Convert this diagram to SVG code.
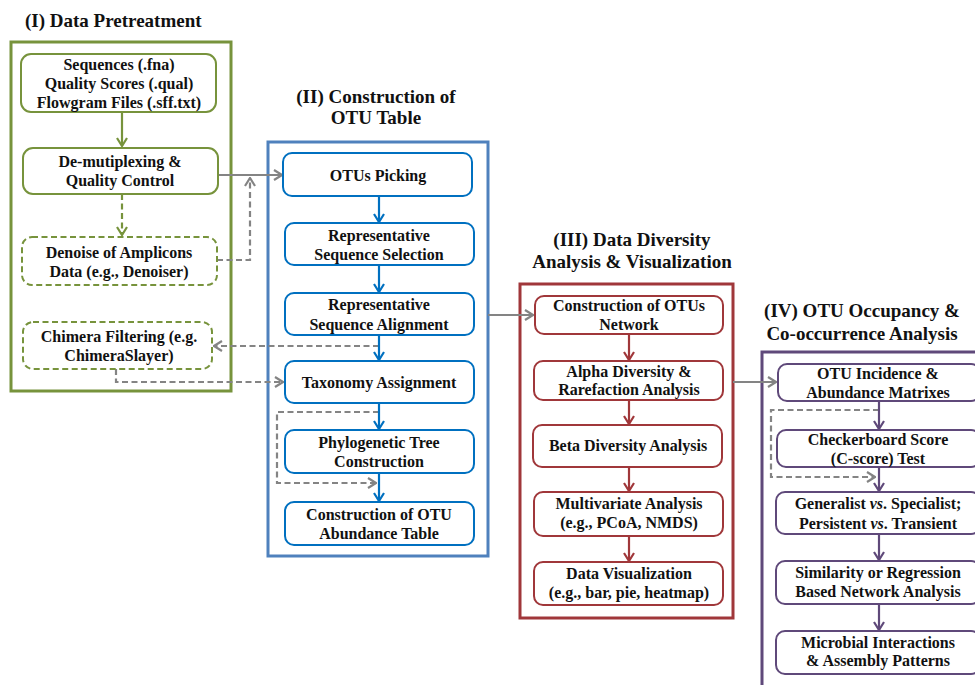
<svg xmlns="http://www.w3.org/2000/svg" width="975" height="685" viewBox="0 0 975 685">
<style>
text{font-family:"Liberation Serif","Times New Roman",serif;font-weight:bold;fill:#111;text-anchor:middle}
.t{font-size:19px}
.n{font-size:16px}
.ob{fill:none;stroke-width:3}
.nd{fill:#fff;stroke-width:2}
.g{stroke:#77933C}
.b{stroke:#0070C0}
.bo{stroke:#4F81BD}
.r{stroke:#A0373A}
.p{stroke:#5F497A}
.dash{stroke-dasharray:6 3.5}
.c{fill:none;stroke-width:2.2}
.gr{stroke:#848484}
</style>
<defs>
<marker id="mgr" viewBox="0 0 10 12" refX="9" refY="6" markerWidth="10" markerHeight="12" markerUnits="userSpaceOnUse" orient="auto"><path d="M1,1 L9,6 L1,11" fill="none" stroke="#848484" stroke-width="2.2"/></marker>
<marker id="mg" viewBox="0 0 10 12" refX="9" refY="6" markerWidth="10" markerHeight="12" markerUnits="userSpaceOnUse" orient="auto"><path d="M1,1 L9,6 L1,11" fill="none" stroke="#77933C" stroke-width="2.2"/></marker>
<marker id="mb" viewBox="0 0 10 12" refX="9" refY="6" markerWidth="10" markerHeight="12" markerUnits="userSpaceOnUse" orient="auto"><path d="M1,1 L9,6 L1,11" fill="none" stroke="#0070C0" stroke-width="2.2"/></marker>
<marker id="mr" viewBox="0 0 10 12" refX="9" refY="6" markerWidth="10" markerHeight="12" markerUnits="userSpaceOnUse" orient="auto"><path d="M1,1 L9,6 L1,11" fill="none" stroke="#A0373A" stroke-width="2.2"/></marker>
<marker id="mp" viewBox="0 0 10 12" refX="9" refY="6" markerWidth="10" markerHeight="12" markerUnits="userSpaceOnUse" orient="auto"><path d="M1,1 L9,6 L1,11" fill="none" stroke="#5F497A" stroke-width="2.2"/></marker>
</defs>
<rect width="975" height="685" fill="#fff"/>

<!-- Section frames and titles -->
<g id="section-I">
<text class="t" x="25" y="27" style="text-anchor:start">(I) Data Pretreatment</text>
<rect class="ob g" x="11" y="42" width="220" height="349"/>
</g>
<g id="section-II">
<text class="t" x="376" y="103">(II) Construction of</text>
<text class="t" x="376" y="124">OTU Table</text>
<rect class="ob bo" x="268" y="142" width="220" height="414"/>
</g>
<g id="section-III">
<text class="t" x="632" y="246">(III) Data Diversity</text>
<text class="t" x="632" y="268">Analysis &amp; Visualization</text>
<rect class="ob r" x="520" y="284" width="213" height="334"/>
</g>
<g id="section-IV">
<text class="t" x="862" y="317">(IV) OTU Occupancy &amp;</text>
<text class="t" x="862" y="340">Co-occurrence Analysis</text>
<rect class="ob p" x="762" y="352" width="220" height="345"/>
</g>

<!-- Connectors -->
<g id="connectors">
<line class="c g" x1="122" y1="112" x2="122" y2="146" marker-end="url(#mg)"/>
<line class="c g dash" x1="122" y1="194" x2="122" y2="235" marker-end="url(#mg)"/>
<line class="c gr" x1="218" y1="175" x2="282" y2="175" marker-end="url(#mgr)"/>
<polyline class="c gr dash" points="217,260 250,260 250,178" marker-end="url(#mgr)"/>
<line class="c gr dash" x1="379" y1="346" x2="214" y2="346" marker-end="url(#mgr)"/>
<polyline class="c gr dash" points="116,369 116,382 283,382" marker-end="url(#mgr)"/>
<polyline class="c gr dash" points="379,412 277,412 277,483 376,483" marker-end="url(#mgr)"/>
<line class="c gr" x1="488" y1="315" x2="533" y2="315" marker-end="url(#mgr)"/>
<line class="c gr" x1="733" y1="382" x2="776" y2="382" marker-end="url(#mgr)"/>
<polyline class="c gr dash" points="879,410 771,410 771,477 875,477" marker-end="url(#mgr)"/>

<line class="c b" x1="379" y1="196" x2="379" y2="222" marker-end="url(#mb)"/>
<line class="c b" x1="379" y1="265" x2="379" y2="292" marker-end="url(#mb)"/>
<line class="c b" x1="379" y1="335" x2="379" y2="360" marker-end="url(#mb)"/>
<line class="c b" x1="379" y1="403" x2="379" y2="429" marker-end="url(#mb)"/>
<line class="c b" x1="379" y1="473" x2="379" y2="501" marker-end="url(#mb)"/>

<line class="c r" x1="629" y1="334" x2="629" y2="360" marker-end="url(#mr)"/>
<line class="c r" x1="629" y1="400" x2="629" y2="424" marker-end="url(#mr)"/>
<line class="c r" x1="629" y1="467" x2="629" y2="491" marker-end="url(#mr)"/>
<line class="c r" x1="629" y1="536" x2="629" y2="561" marker-end="url(#mr)"/>

<line class="c p" x1="879" y1="401" x2="879" y2="429" marker-end="url(#mp)"/>
<line class="c p" x1="879" y1="467" x2="879" y2="491" marker-end="url(#mp)"/>
<line class="c p" x1="879" y1="534" x2="879" y2="560" marker-end="url(#mp)"/>
<line class="c p" x1="879" y1="604" x2="879" y2="630" marker-end="url(#mp)"/>
</g>

<!-- Section I nodes -->
<g id="n-input">
<rect class="nd g" x="21" y="54" width="195" height="58" rx="10"/>
<text class="n" x="119" y="70">Sequences (.fna)</text>
<text class="n" x="119" y="89">Quality Scores (.qual)</text>
<text class="n" x="119" y="108">Flowgram Files (.sff.txt)</text>
</g>
<g id="n-demux">
<rect class="nd g" x="23" y="148" width="195" height="46" rx="10"/>
<text class="n" x="120" y="167">De-mutiplexing &amp;</text>
<text class="n" x="120" y="186">Quality Control</text>
</g>
<g id="n-denoise">
<rect class="nd g dash" x="22" y="237" width="195" height="48" rx="10"/>
<text class="n" x="119" y="258">Denoise of Amplicons</text>
<text class="n" x="119" y="277">Data (e.g., Denoiser)</text>
</g>
<g id="n-chimera">
<rect class="nd g dash" x="23" y="322" width="189" height="47" rx="10"/>
<text class="n" x="119" y="342">Chimera Filtering (e.g.</text>
<text class="n" x="119" y="361">ChimeraSlayer)</text>
</g>

<!-- Section II nodes -->
<g id="n-otupick">
<rect class="nd b" x="283" y="153" width="189" height="43" rx="9"/>
<text class="n" x="378" y="181">OTUs Picking</text>
</g>
<g id="n-repsel">
<rect class="nd b" x="285" y="223" width="189" height="42" rx="9"/>
<text class="n" x="379" y="241">Representative</text>
<text class="n" x="379" y="260">Sequence Selection</text>
</g>
<g id="n-repalign">
<rect class="nd b" x="285" y="293" width="189" height="42" rx="9"/>
<text class="n" x="379" y="310">Representative</text>
<text class="n" x="379" y="330">Sequence Alignment</text>
</g>
<g id="n-taxonomy">
<rect class="nd b" x="285" y="361" width="189" height="42" rx="9"/>
<text class="n" x="379" y="388">Taxonomy Assignment</text>
</g>
<g id="n-phylo">
<rect class="nd b" x="285" y="430" width="189" height="43" rx="9"/>
<text class="n" x="379" y="448">Phylogenetic Tree</text>
<text class="n" x="379" y="467">Construction</text>
</g>
<g id="n-otutable">
<rect class="nd b" x="285" y="502" width="189" height="43" rx="9"/>
<text class="n" x="379" y="520">Construction of OTU</text>
<text class="n" x="379" y="539">Abundance Table</text>
</g>

<!-- Section III nodes -->
<g id="n-network">
<rect class="nd r" x="535" y="296" width="188" height="38" rx="9"/>
<text class="n" x="629" y="311">Construction of OTUs</text>
<text class="n" x="629" y="330">Network</text>
</g>
<g id="n-alpha">
<rect class="nd r" x="534" y="361" width="189" height="39" rx="9"/>
<text class="n" x="629" y="377">Alpha Diversity &amp;</text>
<text class="n" x="629" y="395">Rarefaction Analysis</text>
</g>
<g id="n-beta">
<rect class="nd r" x="533" y="425" width="189" height="42" rx="9"/>
<text class="n" x="628" y="451">Beta Diversity Analysis</text>
</g>
<g id="n-multi">
<rect class="nd r" x="534" y="492" width="189" height="44" rx="9"/>
<text class="n" x="629" y="509">Multivariate Analysis</text>
<text class="n" x="629" y="528">(e.g., PCoA, NMDS)</text>
</g>
<g id="n-vis">
<rect class="nd r" x="534" y="562" width="189" height="43" rx="9"/>
<text class="n" x="629" y="579">Data Visualization</text>
<text class="n" x="629" y="598">(e.g., bar, pie, heatmap)</text>
</g>

<!-- Section IV nodes -->
<g id="n-matrix">
<rect class="nd p" x="778" y="364" width="202" height="37" rx="9"/>
<text class="n" x="878" y="379">OTU Incidence &amp;</text>
<text class="n" x="878" y="398">Abundance Matrixes</text>
</g>
<g id="n-cscore">
<rect class="nd p" x="777" y="430" width="203" height="37" rx="9"/>
<text class="n" x="878" y="445">Checkerboard Score</text>
<text class="n" x="878" y="464">(C-score) Test</text>
</g>
<g id="n-generalist">
<rect class="nd p" x="776" y="492" width="204" height="42" rx="9"/>
<text class="n" x="878" y="509">Generalist <tspan font-style="italic">vs</tspan>. Specialist;</text>
<text class="n" x="878" y="529">Persistent <tspan font-style="italic">vs</tspan>. Transient</text>
</g>
<g id="n-similarity">
<rect class="nd p" x="776" y="561" width="204" height="43" rx="9"/>
<text class="n" x="878" y="578">Similarity or Regression</text>
<text class="n" x="878" y="597">Based Network Analysis</text>
</g>
<g id="n-microbial">
<rect class="nd p" x="776" y="631" width="204" height="43" rx="9"/>
<text class="n" x="878" y="648">Microbial Interactions</text>
<text class="n" x="878" y="666">&amp; Assembly Patterns</text>
</g>
</svg>
